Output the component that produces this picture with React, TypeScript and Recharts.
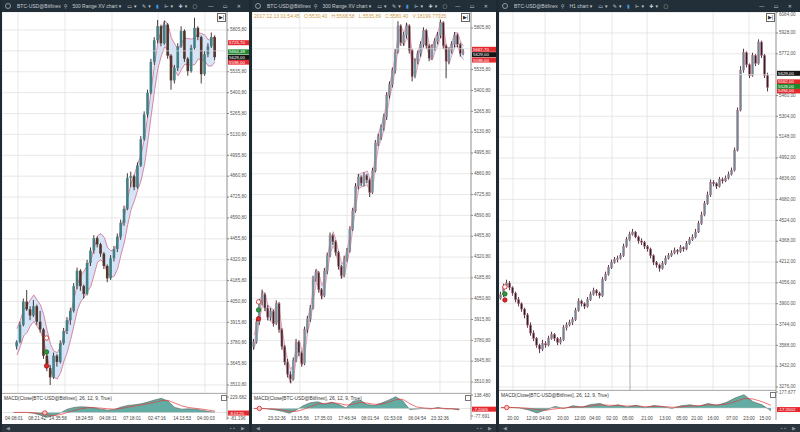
import {
  Area,
  Bar,
  CartesianGrid,
  ComposedChart,
  Line,
  ReferenceDot,
  ReferenceLine,
  XAxis,
  YAxis,
} from "recharts";

type Ohlc = [number, number, number, number];
type Pair = [number, number];

// ---------- left: 500 Range XV chart ----------
const p1Candles: Ohlc[] = [
  [3760, 3800, 3740, 3790], [3790, 3920, 3780, 3900], [3900, 4070, 3890, 4050], [4050, 4125, 3990, 4000], [4000, 4020, 3930, 3960],
  [3960, 4060, 3950, 4020], [4020, 4030, 3900, 3920], [3920, 3990, 3850, 3870], [3870, 3880, 3680, 3700], [3700, 3720, 3600, 3620],
  [3620, 3640, 3511, 3560], [3560, 3720, 3550, 3700], [3700, 3710, 3630, 3660], [3660, 3800, 3650, 3780], [3780, 3880, 3770, 3860],
  [3860, 3950, 3840, 3930], [3930, 4010, 3900, 3990], [3990, 4170, 3980, 4150], [4150, 4270, 4130, 4250], [4250, 4260, 4120, 4150],
  [4150, 4160, 4070, 4100], [4100, 4320, 4090, 4300], [4300, 4400, 4280, 4380], [4380, 4480, 4360, 4460], [4460, 4470, 4400, 4420],
  [4420, 4430, 4340, 4360], [4360, 4370, 4260, 4280], [4280, 4290, 4175, 4200], [4200, 4350, 4190, 4330], [4330, 4410, 4310, 4390],
  [4390, 4490, 4370, 4470], [4470, 4580, 4450, 4560], [4560, 4670, 4540, 4650], [4650, 4880, 4640, 4850], [4850, 4890, 4790, 4860],
  [4860, 4870, 4770, 4790], [4790, 4950, 4780, 4930], [4930, 5120, 4920, 5100], [5100, 5280, 5090, 5260], [5260, 5420, 5240, 5400],
  [5400, 5620, 5390, 5600], [5600, 5760, 5580, 5740], [5740, 5870, 5720, 5830], [5830, 5840, 5700, 5720], [5720, 5865, 5710, 5840],
  [5840, 5850, 5620, 5640], [5640, 5650, 5420, 5480], [5480, 5580, 5460, 5560], [5560, 5720, 5540, 5700], [5700, 5830, 5690, 5800],
  [5800, 5810, 5600, 5620], [5620, 5630, 5510, 5540], [5540, 5710, 5530, 5690], [5690, 5885, 5680, 5820], [5820, 5830, 5740, 5760],
  [5760, 5770, 5460, 5520], [5520, 5670, 5510, 5650], [5650, 5720, 5630, 5700], [5700, 5790, 5690, 5760], [5760, 5770, 5610, 5630],
];
const p1Band: Pair[] = [
  [3705, 3875], [3760, 3930], [3828, 3998], [3850, 4020], [3893, 4063], [3923, 4093], [3890, 4060], [3858, 4028], [3793, 3963], [3693, 3863],
  [3603, 3773], [3560, 3730], [3550, 3720], [3590, 3760], [3665, 3835], [3723, 3893], [3805, 3975], [3898, 4068], [3995, 4165], [4050, 4220],
  [4078, 4248], [4115, 4285], [4148, 4318], [4225, 4395], [4305, 4475], [4320, 4490], [4295, 4465], [4230, 4400], [4208, 4378], [4215, 4385],
  [4263, 4433], [4353, 4523], [4433, 4603], [4548, 4718], [4645, 4815], [4703, 4873], [4773, 4943], [4835, 5005], [4935, 5105], [5088, 5258],
  [5255, 5425], [5415, 5585], [5558, 5728], [5638, 5808], [5698, 5868], [5673, 5843], [5585, 5755], [5545, 5715], [5510, 5680], [5550, 5720],
  [5585, 5755], [5580, 5750], [5578, 5748], [5583, 5753], [5618, 5788], [5613, 5783], [5603, 5773], [5573, 5743], [5573, 5743], [5600, 5770],
];
// 5670,80 sits behind the price badges, so only its grid line shows
const rangeYTicks = [
  3510.8, 3645.8, 3780.8, 3915.8, 4050.8, 4185.8, 4320.8, 4455.8, 4590.8, 4725.8, 4860.8, 4995.8, 5130.8, 5265.8, 5400.8, 5535.8, 5805.8,
];
const rangeHiddenGrid = [5670.8];
const p1GridIdx = [0.3, 7.5, 14.3, 21.2, 28.3, 35.2, 42.1, 49.2, 56];
const p1TimeIdx = [-0.9, 6, 12.2, 20, 27.1, 34.3, 41.7, 49.2, 56.3];
const p1TimeLabels = ["04:08:01", "08:21:42", "14:35:58", "18:24:59", "04:08:11", "07:18:01", "02:47:16", "14:13:53", "04:00:03"];
const p1MacdIdx = [-1, 1, 3, 5, 7, 9, 11, 13, 15, 17, 19, 21, 23, 25, 27, 29, 31, 33, 35, 37, 39, 41, 43, 45, 47, 49, 51, 53, 55, 57, 59];
const p1Macd = [0, 2, 0, -10, -40, -70, -45, -5, 50, 75, 85, 80, 70, 50, 35, 45, 80, 105, 115, 130, 155, 185, 210, 170, 75, 50, 55, 50, 35, 15, 5];
const p1Signal = [0, 1, 1, -3, -15, -35, -45, -30, 0, 30, 55, 70, 72, 65, 55, 50, 60, 78, 95, 112, 130, 150, 175, 180, 140, 100, 75, 62, 52, 35, 20];
const p1Badges = [
  { value: 5723.7, text: "5723,70", color: "#e52a2f" },
  { value: 5664.48, text: "5664,48", color: "#1e8a2e" },
  { value: 5598, text: "5598,00", color: "#e52a2f" },
  { value: 5629, text: "5629,00", color: "#151515" },
];
const p1Markers = [
  { i: 8.8, v: 3815, kind: "ring" },
  { i: 8.8, v: 3724, kind: "green" },
  { i: 8.8, v: 3634, kind: "red" },
];

// ---------- middle: 300 Range XV chart ----------
const p2Candles: Ohlc[] = [
  [3740, 3790, 3720, 3770], [3770, 3920, 3760, 3900], [3900, 4050, 3880, 4030], [4030, 4110, 4010, 4080], [4080, 4090, 3970, 3990],
  [3990, 4010, 3910, 3930], [3930, 3990, 3910, 3970], [3970, 3980, 3870, 3890], [3890, 4040, 3880, 4020], [4020, 4030, 3830, 3850],
  [3850, 3860, 3720, 3740], [3740, 3750, 3620, 3640], [3640, 3660, 3540, 3560], [3560, 3580, 3505, 3530], [3530, 3670, 3520, 3650],
  [3650, 3790, 3640, 3770], [3770, 3780, 3680, 3700], [3700, 3710, 3610, 3630], [3630, 3870, 3620, 3850], [3850, 3940, 3830, 3920],
  [3920, 4010, 3900, 3990], [3990, 4200, 3980, 4180], [4180, 4240, 4160, 4220], [4220, 4230, 4090, 4110], [4110, 4120, 4050, 4070],
  [4070, 4250, 4060, 4230], [4230, 4350, 4210, 4330], [4330, 4480, 4320, 4460], [4460, 4470, 4400, 4420], [4420, 4430, 4330, 4350],
  [4350, 4360, 4240, 4260], [4260, 4270, 4180, 4200], [4200, 4330, 4190, 4310], [4310, 4380, 4290, 4360], [4360, 4520, 4350, 4500],
  [4500, 4640, 4490, 4620], [4620, 4800, 4610, 4780], [4780, 4860, 4760, 4840], [4840, 4850, 4780, 4800], [4800, 4870, 4780, 4850],
  [4850, 4860, 4800, 4820], [4820, 4830, 4710, 4740], [4740, 4900, 4730, 4880], [4880, 5080, 4870, 5060], [5060, 5120, 5040, 5100],
  [5100, 5180, 5080, 5160], [5160, 5250, 5140, 5230], [5230, 5390, 5210, 5370], [5370, 5460, 5350, 5440], [5440, 5550, 5420, 5530],
  [5530, 5670, 5510, 5650], [5650, 5850, 5640, 5820], [5820, 5830, 5690, 5710], [5710, 5780, 5690, 5760], [5760, 5840, 5740, 5820],
  [5820, 5830, 5640, 5660], [5660, 5670, 5460, 5490], [5490, 5610, 5480, 5590], [5590, 5660, 5570, 5640], [5640, 5720, 5620, 5700],
  [5700, 5810, 5680, 5790], [5790, 5800, 5670, 5690], [5690, 5700, 5590, 5610], [5610, 5700, 5600, 5680], [5680, 5740, 5660, 5720],
  [5720, 5780, 5700, 5760], [5760, 5860, 5740, 5840], [5840, 5850, 5670, 5690], [5690, 5700, 5480, 5590], [5590, 5680, 5570, 5660],
  [5660, 5720, 5640, 5700], [5700, 5780, 5680, 5760], [5760, 5770, 5680, 5700], [5700, 5710, 5620, 5640], [5640, 5670, 5630, 5650],
];
const p2Band: Pair[] = [
  [3725, 3815], [3790, 3880], [3920, 4010], [4010, 4100], [3990, 4080], [3915, 4005], [3905, 3995], [3885, 3975], [3910, 4000], [3890, 3980],
  [3750, 3840], [3645, 3735], [3555, 3645], [3500, 3590], [3545, 3635], [3665, 3755], [3690, 3780], [3620, 3710], [3695, 3785], [3840, 3930],
  [3910, 4000], [4040, 4130], [4155, 4245], [4120, 4210], [4045, 4135], [4105, 4195], [4235, 4325], [4350, 4440], [4395, 4485], [4340, 4430],
  [4260, 4350], [4185, 4275], [4210, 4300], [4290, 4380], [4385, 4475], [4515, 4605], [4655, 4745], [4765, 4855], [4775, 4865], [4780, 4870],
  [4790, 4880], [4735, 4825], [4765, 4855], [4925, 5015], [5035, 5125], [5085, 5175], [5150, 5240], [5255, 5345], [5360, 5450], [5440, 5530],
  [5545, 5635], [5690, 5780], [5720, 5810], [5690, 5780], [5745, 5835], [5695, 5785], [5530, 5620], [5495, 5585], [5570, 5660], [5625, 5715],
  [5700, 5790], [5695, 5785], [5605, 5695], [5600, 5690], [5655, 5745], [5695, 5785], [5755, 5845], [5720, 5810], [5595, 5685], [5580, 5670],
  [5635, 5725], [5685, 5775], [5685, 5775], [5625, 5715], [5600, 5690],
];
const p2GridIdx = [8.1, 16.2, 24.4, 32.9, 41, 49.1, 57.6, 65.7];
const p2TimeIdx = [8.1, 16.2, 24.4, 32.9, 41, 49.1, 57.6, 65.7];
const p2TimeLabels = ["23:32:36", "13:15:56", "17:35:03", "17:46:34", "08:01:54", "01:53:08", "06:04:54", "23:32:36"];
const p2MacdIdx = [0, 2.5, 5, 7.5, 10, 12.5, 15, 17.5, 20, 22.5, 25, 27.5, 30, 32.5, 35, 37.5, 40, 42.5, 45, 47.5, 50, 52.5, 55, 57.5, 60, 62.5, 65, 67.5, 70, 72.5];
const p2Macd = [0, 0, -5, -15, -30, -50, -15, 30, 60, 68, 45, 65, 40, 5, 75, 85, 40, 30, 55, 85, 120, 80, -10, -5, 0, -5, 10, -5, -5, -15];
const p2Signal = [0, 0, -2, -7, -16, -30, -30, -10, 20, 45, 52, 58, 52, 35, 45, 62, 55, 42, 45, 62, 90, 95, 50, 15, 5, 0, 3, 0, -2, -8];
const p2Badges = [
  { value: 5667.7, text: "5667,70", color: "#e52a2f" },
  { value: 5598, text: "5598,00", color: "#e52a2f" },
  { value: 5633, text: "5629,00", color: "#151515" },
];
const p2Markers = [
  { i: 1.6, v: 4030, kind: "ring" },
  { i: 1.6, v: 3978, kind: "green" },
  { i: 1.6, v: 3921, kind: "red" },
];

// ---------- right: H1 chart ----------
const p3Candles: Ohlc[] = [
  [3940, 3990, 3930, 3966], [3966, 4050, 3950, 4030], [4030, 4080, 4010, 4055], [4055, 4070, 4000, 4020], [4020, 4030, 3960, 3980],
  [3980, 3990, 3910, 3930], [3930, 3950, 3880, 3900], [3900, 3910, 3840, 3860], [3860, 3870, 3790, 3816], [3816, 3830, 3720, 3740],
  [3740, 3760, 3660, 3680], [3680, 3700, 3620, 3640], [3640, 3650, 3570, 3590], [3590, 3600, 3530, 3560], [3560, 3630, 3545, 3600],
  [3600, 3620, 3570, 3591], [3591, 3660, 3580, 3640], [3640, 3690, 3630, 3670], [3670, 3680, 3620, 3640], [3640, 3650, 3590, 3610],
  [3610, 3650, 3595, 3630], [3630, 3740, 3620, 3720], [3720, 3760, 3700, 3741], [3741, 3780, 3730, 3760], [3760, 3800, 3740, 3780],
  [3780, 3870, 3770, 3850], [3850, 3940, 3840, 3920], [3920, 3930, 3880, 3900], [3900, 3910, 3860, 3880], [3880, 3950, 3870, 3930],
  [3930, 3990, 3920, 3970], [3970, 4020, 3960, 4000], [4000, 4010, 3960, 3980], [3980, 3990, 3940, 3960], [3960, 4100, 3950, 4080],
  [4080, 4140, 4070, 4120], [4120, 4190, 4110, 4170], [4170, 4230, 4160, 4210], [4210, 4250, 4200, 4230], [4230, 4260, 4210, 4240],
  [4240, 4280, 4230, 4260], [4260, 4350, 4250, 4330], [4330, 4400, 4320, 4380], [4380, 4440, 4370, 4420], [4420, 4460, 4410, 4437],
  [4437, 4445, 4390, 4400], [4400, 4410, 4350, 4370], [4370, 4390, 4340, 4360], [4360, 4370, 4310, 4330], [4330, 4340, 4290, 4310],
  [4310, 4320, 4240, 4260], [4260, 4270, 4190, 4210], [4210, 4220, 4170, 4190], [4190, 4200, 4140, 4165], [4165, 4220, 4155, 4200],
  [4200, 4260, 4190, 4240], [4240, 4280, 4230, 4260], [4260, 4300, 4250, 4280], [4280, 4320, 4270, 4300], [4300, 4310, 4270, 4290],
  [4290, 4340, 4280, 4320], [4320, 4330, 4290, 4310], [4310, 4370, 4300, 4350], [4350, 4400, 4340, 4380], [4380, 4420, 4370, 4400],
  [4400, 4460, 4390, 4437], [4437, 4520, 4430, 4500], [4500, 4590, 4490, 4565], [4565, 4670, 4555, 4650], [4650, 4740, 4640, 4715],
  [4715, 4830, 4700, 4810], [4810, 4825, 4780, 4800], [4800, 4810, 4760, 4780], [4780, 4850, 4770, 4830], [4830, 4845, 4800, 4820],
  [4820, 4860, 4810, 4842], [4842, 4890, 4830, 4870], [4870, 4920, 4860, 4900], [4900, 5070, 4890, 5050], [5050, 5370, 5040, 5350],
  [5350, 5680, 5340, 5650], [5650, 5810, 5630, 5780], [5780, 5790, 5670, 5690], [5690, 5700, 5590, 5610], [5610, 5780, 5600, 5760],
  [5760, 5770, 5680, 5700], [5700, 5880, 5690, 5860], [5860, 5870, 5740, 5760], [5760, 5770, 5590, 5610], [5610, 5630, 5490, 5520],
];
// 5616,00 sits behind the price badges, so only its grid line shows
const p3YTicks = [3276, 3432, 3588, 3744, 3900, 4056, 4212, 4368, 4524, 4680, 4836, 4992, 5148, 5304, 5460, 5772, 5928, 6084];
const p3HiddenGrid = [5616];
const p3GridIdx = [4, 14.7, 26.3, 37, 48.7, 60.3, 70.7, 82.7];
const p3TimeIdx = [4, 10.3, 14.7, 20.7, 26.3, 31.3, 37, 42.3, 48.7, 54.7, 60.3, 65.3, 70.7, 77, 82.7, 88];
const p3TimeLabels = [
  "20:00", "12:00", "04:00", "20:00", "12:00", "04:00", "02:00", "05:00", "21:00", "13:00", "05:00", "21:00", "16:00", "07:00", "23:00", "15:00",
];
const p3MacdIdx = [0, 3, 6, 9, 12, 15, 18, 21, 24, 27, 30, 33, 36, 39, 42, 45, 48, 51, 54, 57, 60, 63, 66, 69, 72, 75, 78, 81, 84, 87, 90];
const p3Macd = [5, 8, 0, -20, -55, -20, 18, -5, 25, 10, 40, 50, 15, 35, 10, 30, 2, 28, 15, -5, 25, 35, 20, 50, 30, 60, 110, 148, 70, 35, -30];
const p3Signal = [3, 5, 4, -3, -18, -25, -10, 0, 10, 12, 22, 35, 30, 30, 22, 25, 15, 18, 18, 8, 12, 22, 25, 35, 35, 42, 70, 105, 100, 70, 30];
const p3Badges = [
  { value: 5562, text: "5562,00", color: "#e52a2f" },
  { value: 5494, text: "5494,00", color: "#e52a2f" },
  { value: 5528, text: "5528,00", color: "#1e8a2e" },
  { value: 5626, text: "5629,00", color: "#151515" },
];
const p3Markers = [
  { i: 1.3, v: 4026, kind: "ring" },
  { i: 1.3, v: 3973, kind: "green" },
  { i: 1.3, v: 3928, kind: "red" },
];

const FONT = '"Liberation Sans", Arial, sans-serif';
const fmtPrice = (v: number) => v.toFixed(2).replace(".", ",");

const panels = [
  {
    left: 2, width: 247, axisW: 22, priceH: 381, macdTop: 393, macdH: 31, chartName: "500 Range XV chart",
    candles: p1Candles, band: p1Band, bandFill: "#d5e4f7", bandStroke: "#d4587a",
    yDomain: [3459.1, 5922.2], yTicks: rangeYTicks, hiddenGrid: rangeHiddenGrid, xDomain: [-4.47, 62.57], gridIdx: p1GridIdx,
    timeIdx: p1TimeIdx, timeLabels: p1TimeLabels, barSize: 2.6,
    up: "#447f86", down: "#54352a", wick: "#33241f", outline: "none",
    macdIdx: p1MacdIdx, macd: p1Macd, signal: p1Signal, macdDomain: [-110.8, 288.9], macdTicks: [229.682, -81.196],
    macdBadge: { value: -8.0125, text: "-8.0125" }, macdMarker: { i: 8.3, v: -5 },
    badges: p1Badges, markers: p1Markers, crossIdx: null as number | null, info: null as string | null,
  },
  {
    left: 252, width: 244, axisW: 25, priceH: 381, macdTop: 393, macdH: 31, chartName: "300 Range XV chart",
    candles: p2Candles, band: p2Band, bandFill: "#dde8f4", bandStroke: "#d9819a",
    yDomain: [3439.5, 5909.5], yTicks: rangeYTicks, hiddenGrid: rangeHiddenGrid, xDomain: [-0.71, 76.65], gridIdx: p2GridIdx,
    timeIdx: p2TimeIdx, timeLabels: p2TimeLabels, barSize: 2,
    up: "#5e9ea3", down: "#3a2825", wick: "#2c1f1f", outline: "#c97a90",
    macdIdx: p2MacdIdx, macd: p2Macd, signal: p2Signal, macdDomain: [-118.9, 159.1], macdTicks: [138.48, -77.691],
    macdBadge: { value: -7.2005, text: "-7.2005" }, macdMarker: { i: 1.9, v: 0 },
    badges: p2Badges, markers: p2Markers, crossIdx: null as number | null,
    info: "2017.12.13 01:54:45   O:5530,40   H:5568,58   L:5535,89   C:5580,40   V:18199.77035",
  },
  {
    left: 499, width: 301, axisW: 24, priceH: 378, macdTop: 390, macdH: 34, chartName: "H1 chart",
    candles: p3Candles, band: null as Pair[] | null, bandFill: "", bandStroke: "",
    yDomain: [3253.5, 6085.3], yTicks: p3YTicks, hiddenGrid: p3HiddenGrid, xDomain: [-0.67, 91.67], gridIdx: p3GridIdx,
    timeIdx: p3TimeIdx, timeLabels: p3TimeLabels, barSize: 2.1,
    up: "#5f8f96", down: "#2e2024", wick: "#3a252c", outline: "#cf7690",
    macdIdx: p3MacdIdx, macd: p3Macd, signal: p3Signal, macdDomain: [-133.2, 199.9], macdTicks: [177.677],
    macdBadge: { value: -17.2002, text: "-17.2002" }, macdMarker: { i: 1.9, v: 5 },
    badges: p3Badges, markers: p3Markers, crossIdx: 43 as number | null, info: null as string | null,
  },
];

type Panel = (typeof panels)[number];

const candleShape = (cfg: Panel) => (props: any) => {
  const { x, y, width, height, payload } = props;
  if (x == null || y == null || !payload) return <g />;
  const { o, h, l, c } = payload;
  const top = Math.min(y, y + height);
  const hh = Math.abs(height);
  const span = h - l || 1;
  const yOf = (v: number) => top + ((h - v) / span) * hh;
  const cx = x + width / 2;
  const y1 = yOf(Math.max(o, c));
  const y2 = yOf(Math.min(o, c));
  return (
    <g>
      <line x1={cx} x2={cx} y1={top} y2={top + hh} stroke={cfg.wick} strokeWidth={0.9} />
      <rect
        x={cx - width / 2}
        y={y1}
        width={width}
        height={Math.max(0.8, y2 - y1)}
        fill={c >= o ? cfg.up : cfg.down}
        stroke={cfg.outline}
        strokeWidth={0.45}
      />
    </g>
  );
};

const badge = (text: string, color: string, w: number) => (props: any) => {
  const vb = props.viewBox;
  if (!vb) return <g />;
  const bx = vb.x + vb.width + 1;
  return (
    <g>
      <rect x={bx} y={vb.y - 2.5} width={w} height={5} fill={color} />
      <text x={bx + 1} y={vb.y + 0.3} fontSize={4.4} fill="#fff" dominantBaseline="middle">
        {text}
      </text>
    </g>
  );
};

const markerStyle = (kind: string) =>
  kind === "ring"
    ? { fill: "#fff", stroke: "#e02626" }
    : kind === "green"
    ? { fill: "#2a9a3c", stroke: "#1b6b28" }
    : { fill: "#e02626", stroke: "#a01818" };

const priceTick = (p: any) => (
  <text x={p.x} y={Math.max(p.y, 2.8)} fontSize={4.6} fill="#555" textAnchor="start" dominantBaseline="middle">
    {fmtPrice(p.payload.value)}
  </text>
);

function PriceChart({ cfg }: { cfg: Panel }) {
  const rows = cfg.candles.map(([o, h, l, c], i) => ({
    i, o, h, l, c, range: [l, h], band: cfg.band ? cfg.band[i] : undefined,
  }));
  return (
    <ComposedChart width={cfg.width} height={cfg.priceH} data={rows} margin={{ top: 0, right: 0, bottom: 0, left: 0 }}>
      <CartesianGrid stroke="#dedede" strokeWidth={0.7} />
      {cfg.hiddenGrid.map((g) => (
        <ReferenceLine key={g} y={g} stroke="#dedede" strokeWidth={0.7} />
      ))}
      <XAxis type="number" dataKey="i" domain={cfg.xDomain} ticks={cfg.gridIdx} allowDataOverflow hide />
      <YAxis
        orientation="right"
        width={cfg.axisW}
        domain={cfg.yDomain}
        ticks={cfg.yTicks}
        interval={0}
        allowDataOverflow
        tick={priceTick}
        tickSize={2}
        tickMargin={1}
        axisLine={{ stroke: "#9a9a9a" }}
        tickLine={{ stroke: "#888" }}
      />
      {cfg.band && (
        <Area
          dataKey="band"
          type="linear"
          fill={cfg.bandFill}
          fillOpacity={1}
          stroke={cfg.bandStroke}
          strokeWidth={0.7}
          dot={false}
          activeDot={false}
          isAnimationActive={false}
        />
      )}
      <Bar dataKey="range" barSize={cfg.barSize} shape={candleShape(cfg)} isAnimationActive={false} />
      {cfg.crossIdx != null && (
        <ReferenceLine
          segment={[{ x: cfg.crossIdx, y: 4430 }, { x: cfg.crossIdx, y: cfg.yDomain[0] }]}
          stroke="#8a8a8a"
          strokeWidth={0.7}
        />
      )}
      {cfg.markers.map((m, k) => (
        <ReferenceDot key={k} x={m.i} y={m.v} r={2.2} strokeWidth={0.8} {...markerStyle(m.kind)} />
      ))}
      {cfg.badges.map((b, k) => (
        <ReferenceLine key={k} y={b.value} stroke="none" label={badge(b.text, b.color, cfg.axisW - 1)} />
      ))}
    </ComposedChart>
  );
}

function MacdChart({ cfg }: { cfg: Panel }) {
  const rows = cfg.macdIdx.map((i, k) => ({ i, m: cfg.macd[k], s: cfg.signal[k] }));
  const labelOf = new Map(cfg.timeIdx.map((t, k) => [t, cfg.timeLabels[k]] as [number, string]));
  return (
    <ComposedChart width={cfg.width} height={cfg.macdH} data={rows} margin={{ top: 0, right: 0, bottom: 0, left: 0 }}>
      <XAxis
        type="number"
        dataKey="i"
        domain={cfg.xDomain}
        ticks={cfg.timeIdx}
        interval={0}
        allowDataOverflow
        height={4}
        axisLine={false}
        tickLine={false}
        tickSize={0}
        tickMargin={0}
        tick={(p: any) => (
          <text x={p.x} y={p.y - 1.6} fontSize={4.6} fill="#444" textAnchor="middle" dominantBaseline="middle">
            {labelOf.get(p.payload.value)}
          </text>
        )}
      />
      <YAxis
        orientation="right"
        width={cfg.axisW}
        domain={cfg.macdDomain}
        ticks={cfg.macdTicks}
        interval={0}
        allowDataOverflow
        tickFormatter={(v: number) => v.toFixed(3)}
        tick={{ fontSize: 4.6, fill: "#555" }}
        tickSize={2}
        tickMargin={1}
        axisLine={{ stroke: "#9a9a9a" }}
        tickLine={{ stroke: "#888" }}
      />
      <ReferenceLine y={0} stroke="#c4c4c4" strokeWidth={0.5} />
      <Area
        dataKey="m"
        type="linear"
        baseValue={0}
        fill="#63aca3"
        fillOpacity={1}
        stroke="#5d5d5d"
        strokeWidth={0.6}
        dot={false}
        activeDot={false}
        isAnimationActive={false}
      />
      <Line dataKey="s" type="linear" stroke="#e23a3a" strokeWidth={0.7} dot={false} activeDot={false} isAnimationActive={false} />
      <ReferenceDot x={cfg.macdMarker.i} y={cfg.macdMarker.v} r={2.2} fill="#f4c9c9" stroke="#e02626" strokeWidth={0.8} />
      <ReferenceLine y={cfg.macdBadge.value} stroke="none" label={badge(cfg.macdBadge.text, "#e52a2f", cfg.axisW - 1)} />
    </ComposedChart>
  );
}

function Header({ name }: { name: string }) {
  return (
    <div
      style={{
        position: "absolute", left: 0, top: 0, right: 0, height: 12, background: "#232f38", color: "#c5cdd2",
        fontSize: 5, display: "flex", alignItems: "center", whiteSpace: "nowrap", overflow: "hidden",
        fontFamily: '"Liberation Sans", "DejaVu Sans", sans-serif',
      }}
    >
      <span style={{ width: 6, height: 6, borderRadius: 3, border: "1px solid #8f9ba2", boxSizing: "border-box", margin: "0 6px 0 3px" }} />
      <span>BTC-USD@Bitfinex</span>
      <span style={{ marginLeft: 3 }}>⚲</span>
      <span style={{ marginLeft: 5 }}>{name} ▾</span>
      <span style={{ marginLeft: 6, letterSpacing: 2 }}>
        ▭▾ ✎▾ <span style={{ color: "#3b9be0" }}>▮</span> ⊩▾ ✚▾ ▢
      </span>
      <span style={{ position: "absolute", right: 4, letterSpacing: 4 }}>— ▭ ✕</span>
    </div>
  );
}

function PanelView({ cfg }: { cfg: Panel }) {
  return (
    <div style={{ position: "absolute", left: cfg.left, top: 0, width: cfg.width, height: 432, background: "#fff", overflow: "hidden" }}>
      <div style={{ position: "absolute", left: 0, top: 12 }}>
        <PriceChart cfg={cfg} />
      </div>
      <Header name={cfg.chartName} />
      {cfg.info && (
        <div style={{ position: "absolute", left: 2, top: 13, fontSize: 5, color: "#cf9a45", whiteSpace: "pre" }}>{cfg.info}</div>
      )}
      <div
        style={{
          position: "absolute", left: cfg.width - cfg.axisW - 10, top: 13, width: 7, height: 7, border: "1px solid #666",
          background: "#fff", fontSize: 5, lineHeight: "7px", textAlign: "center", color: "#222",
        }}
      >
        ▶|
      </div>
      <div style={{ position: "absolute", left: 0, top: cfg.macdTop, width: cfg.width - cfg.axisW, height: 1, background: "#b0b0b0" }} />
      <div style={{ position: "absolute", left: 0, top: cfg.macdTop }}>
        <MacdChart cfg={cfg} />
      </div>
      <div style={{ position: "absolute", left: 2, top: cfg.macdTop + 3, fontSize: 4.8, color: "#333", whiteSpace: "nowrap" }}>
        MACD(Close[BTC-USD@Bitfinex], 26, 12, 9, True)
      </div>
      <div
        style={{
          position: "absolute", left: cfg.width - cfg.axisW - 6, top: cfg.macdTop + 2, width: 4, height: 4, border: "1px solid #777",
        }}
      />
      <div style={{ position: "absolute", left: 0, top: 424, width: cfg.width, height: 8, background: "#2a353d", color: "#8c979e", fontSize: 5 }}>
        <span style={{ position: "absolute", left: 4, top: 1 }}>◀</span>
        <span style={{ position: "absolute", right: 14, top: 1 }}>▪ ▪</span>
        <span style={{ position: "absolute", right: 4, top: 1 }}>▶</span>
      </div>
    </div>
  );
}

export default function App() {
  return (
    <div style={{ position: "fixed", left: 0, top: 0, width: 800, height: 432, background: "#1e2a31", overflow: "hidden", fontFamily: FONT }}>
      {panels.map((cfg, k) => (
        <PanelView key={k} cfg={cfg} />
      ))}
    </div>
  );
}
